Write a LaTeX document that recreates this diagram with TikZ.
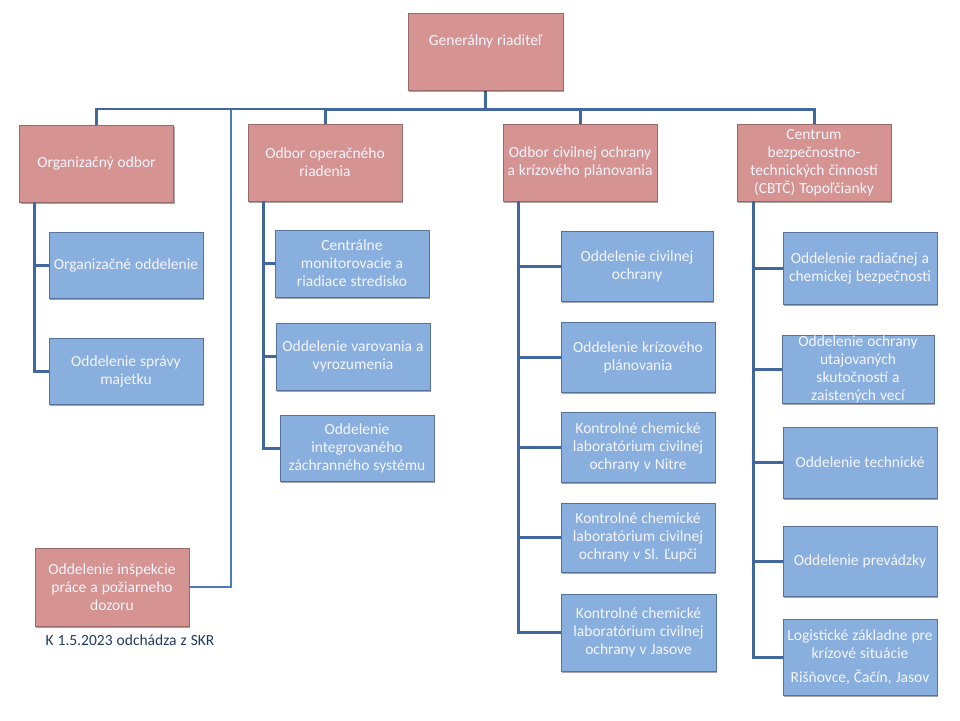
\documentclass[tikz,border=0pt]{standalone}
\usepackage{fontspec}
\setmainfont{Carlito}[WordSpace={1.15}]
\usetikzlibrary{shadows}
\definecolor{redfill}{HTML}{D59391}
\definecolor{redline}{HTML}{9A6A6A}
\definecolor{bluefill}{HTML}{89AFDF}
\definecolor{blueline}{HTML}{56719A}
\definecolor{conn}{HTML}{41689C}
\definecolor{connthin}{HTML}{4A7EBB}
\definecolor{notecol}{HTML}{1F3A60}
\tikzset{
  x=1pt,y=-1pt,
  boxbase/.style={draw,line width=.7pt,inner sep=0pt,align=center,text=white!96!blue,
    font=\fontsize{15.5}{18}\selectfont,
    drop shadow={shadow xshift=1.2pt,shadow yshift=-2pt,opacity=.35,fill=black}},
  redbox/.style={boxbase,fill=redfill,draw=redline},
  bluebox/.style={boxbase,fill=bluefill,draw=blueline},
  sz/.style 2 args={minimum width=#1pt,minimum height=#2pt},
  link/.style={draw=conn,line width=3pt},
  linkleft/.style={draw=conn,line width=2.4pt},
  linkthin/.style={draw=connthin,line width=2pt},
}
\begin{document}
\begin{tikzpicture}
\useasboundingbox (0,0) rectangle (960,720);
% spines and bus points
\coordinate (bus) at (485.5,109);
\coordinate (s1) at (34,202);
\coordinate (s2) at (263.5,201);
\coordinate (s3) at (518.5,201);
\coordinate (s4) at (753,201);
\coordinate (thintop) at (231,109);

% connectors are drawn first, so boxes cover their ends
\coordinate (genb) at (485.5,90);
\coordinate (orgt) at (96.5,125);
\coordinate (opt) at (325,124);
\coordinate (civt) at (580,124);
\coordinate (cent) at (814,124);
\coordinate (inspr) at (189,586.5);
\draw[linkthin] (thintop) |- (inspr);
\draw[linkleft] (bus) -| (orgt);
\draw[link] (genb) -- (bus);
\draw[link] (bus) -| (opt);
\draw[link] (bus) -| (civt);
\draw[link] (bus) -| (cent);

% top
\node[redbox,sz={155}{77}] (gen) at (485.5,51.5) {Generálny riaditeľ\\[4pt]\mbox{}};
\node[redbox,sz={154}{77}] (org) at (96.5,163.5) {Organizačný odbor};
\node[redbox,sz={154}{77}] (op) at (325,162.5) {Odbor operačného\\riadenia};
\node[redbox,sz={154}{77}] (civ) at (580,162.5) {Odbor civilnej ochrany\\a krízového plánovania};
\node[redbox,sz={154}{77}] (cen) at (814,162.5) {Centrum\\bezpečnostno-\\technických činností\\(CBTČ) Topoľčianky};
\node[redbox,sz={154}{78}] (insp) at (112,587) {Oddelenie inšpekcie\\práce a požiarneho\\dozoru};
\node[text=notecol,font=\fontsize{15.5}{18}\selectfont,inner sep=0pt] (note) at (130,640) {K 1.5.2023 odchádza z SKR};

% column 1
\node[bluebox,sz={154}{66}] (a1) at (126,265) {Organizačné oddelenie};
\node[bluebox,sz={154}{66}] (a2) at (126,371) {Oddelenie správy\\majetku};
% column 2
\node[bluebox,sz={154}{67}] (b1) at (352,263.5) {Centrálne\\monitorovacie a\\riadiace stredisko};
\node[bluebox,sz={154}{67}] (b2) at (353,356.5) {Oddelenie varovania a\\vyrozumenia};
\node[bluebox,sz={154}{66}] (b3) at (357,448) {Oddelenie\\integrovaného\\záchranného systému};
% column 3
\node[bluebox,sz={152}{70}] (c1) at (637,266) {Oddelenie civilnej\\ochrany};
\node[bluebox,sz={154}{70}] (c2) at (638,357) {Oddelenie krízového\\plánovania};
\node[bluebox,sz={154}{70}] (c3) at (638,447) {Kontrolné chemické\\laboratórium civilnej\\ochrany v Nitre};
\node[bluebox,sz={154}{69}] (c4) at (638,537.5) {Kontrolné chemické\\laboratórium civilnej\\ochrany v Sl. Ľupči};
\node[bluebox,sz={155}{77}] (c5) at (638.5,632.5) {Kontrolné chemické\\laboratórium civilnej\\ochrany v Jasove};
% column 4
\node[bluebox,sz={154}{72}] (d1) at (860,268) {Oddelenie radiačnej a\\chemickej bezpečnosti};
\node[bluebox,sz={152}{68}] (d2) at (858,369) {Oddelenie ochrany\\utajovaných\\skutočností a\\zaistených vecí};
\node[bluebox,sz={154}{71}] (d3) at (860,462.5) {Oddelenie technické};
\node[bluebox,sz={154}{70}] (d4) at (860,561) {Oddelenie prevádzky};
\node[bluebox,sz={154}{76}] (d5) at (860,657) {Logistické základne pre\\krízové situácie\\[6pt]Rišňovce, Čačín, Jasov};

% branches
\foreach \n in {a1,a2} \draw[link] (s1) |- (\n.west);
\foreach \n in {b1,b2,b3} \draw[link] (s2) |- (\n.west);
\foreach \n in {c1,c2,c3,c4,c5} \draw[link] (s3) |- (\n.west);
\foreach \n in {d1,d2,d3,d4,d5} \draw[link] (s4) |- (\n.west);
\end{tikzpicture}
\end{document}
